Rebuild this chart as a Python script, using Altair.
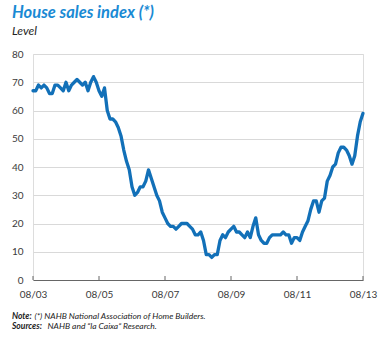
import altair as alt
import pandas as pd

# Monthly index, Aug 2003 .. Aug 2013
values = [
    67, 67, 69, 68, 69, 68, 66, 66, 69, 69, 68, 67,   # 08/03 - 07/04
    70, 67, 69, 70, 71, 70, 69, 70, 67, 70, 72, 70,   # 08/04 - 07/05
    67, 65, 68, 60, 57, 57, 56, 54, 51, 46, 42, 39,   # 08/05 - 07/06
    33, 30, 31, 33, 33, 35, 39, 36, 33, 30, 28, 24,   # 08/06 - 07/07
    22, 20, 19, 19, 18, 19, 20, 20, 20, 19, 18, 16,   # 08/07 - 07/08
    16, 17, 14, 9, 9, 8, 9, 9, 14, 16, 15, 17,        # 08/08 - 07/09
    18, 19, 17, 17, 16, 15, 17, 15, 19, 22, 16, 14,   # 08/09 - 07/10
    13, 13, 15, 16, 16, 16, 16, 17, 16, 16, 13, 15,   # 08/10 - 07/11
    15, 14, 17, 19, 21, 25, 28, 28, 24, 28, 29, 35,   # 08/11 - 07/12
    37, 40, 41, 45, 47, 47, 46, 44, 41, 44, 51, 56,   # 08/12 - 07/13
    59,                                                # 08/13
]
month_index = list(range(len(values)))
tick_months = [0, 24, 48, 72, 96, 120]
y_ticks = [0, 10, 20, 30, 40, 50, 60, 70, 80]

title_text = "House sales index (*)"
subtitle_text = "Level"
note_bold = "Note:"
note_rest = "(*) NAHB National Association of Home Builders."
src_bold = "Sources:"
src_rest = "NAHB and \u201cla Caixa\u201d Research."

FONT = "Lato"
BLUE_LINE = "#1270b8"
BLUE_TITLE = "#1a8ad4"
TXT = "#3a3a3a"

df = pd.DataFrame({"m": month_index, "v": values})
ticks_df = pd.DataFrame({"m": tick_months})

x_scale = alt.Scale(domain=[0, 120], nice=False, zero=False)
y_scale = alt.Scale(domain=[0, 80], nice=False)

line = alt.Chart(df).mark_line(
    color=BLUE_LINE, strokeWidth=3.3, strokeJoin="round", strokeCap="round"
).encode(
    x=alt.X("m:Q", scale=x_scale, title=None,
            axis=alt.Axis(values=tick_months, grid=False, ticks=False,
                          labelExpr="'08/' + format(3 + datum.value / 12, '02d')",
                          labelFlush=False, labelOverlap=False,
                          labelFont=FONT, labelFontSize=10, labelColor=TXT,
                          labelPadding=9, domainColor="#666666", domainWidth=1)),
    y=alt.Y("v:Q", scale=y_scale, title=None,
            axis=alt.Axis(values=y_ticks, grid=True, gridColor="#d9d9d9", gridWidth=1,
                          domain=False, ticks=False, labelFont=FONT, labelFontSize=10,
                          labelColor=TXT, labelPadding=10)),
)

tick_rules = alt.Chart(ticks_df).mark_rule(color="#666666", strokeWidth=1).encode(
    x=alt.X("m:Q", scale=x_scale),
    y=alt.value(226),
    y2=alt.value(222),
)


def txt(s, x, y, size, weight="normal", color=TXT, style="italic"):
    return alt.Chart(pd.DataFrame({"t": [s]})).mark_text(
        align="left", baseline="alphabetic", font=FONT, fontSize=size,
        fontWeight=weight, fontStyle=style, color=color,
    ).encode(x=alt.value(x), y=alt.value(y), text="t:N")


layers = [
    line,
    tick_rules,
    txt(title_text, -21, -36, 16.5, "bold", BLUE_TITLE),
    txt(subtitle_text, -21, -19, 12, "normal", "#222222"),
    txt(note_bold, -21, 265, 8.5, "bold", "#222222"),
    txt(note_rest, 1.5, 265, 8.5, "normal", "#222222"),
    txt(src_bold, -21, 275, 8.5, "bold", "#222222"),
    txt(src_rest, 14.5, 275, 8.5, "normal", "#222222"),
]

chart = alt.layer(*layers).properties(
    width=330, height=226,
    autosize=alt.AutoSizeParams(type="none"),
    padding={"left": 33, "top": 54, "right": 19, "bottom": 58},
).configure_view(stroke=None).configure(background="white")

chart.save("out.html", embed_options={"renderer": "svg", "actions": False})
